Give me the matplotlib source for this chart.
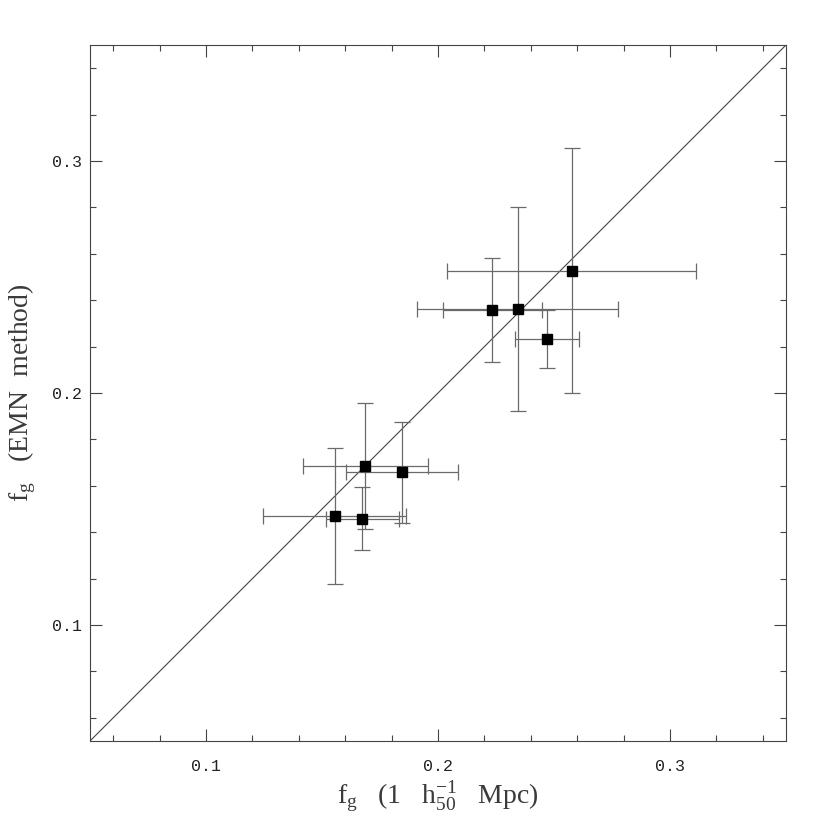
import matplotlib
matplotlib.use("Agg")
import matplotlib.pyplot as plt
from matplotlib.ticker import MultipleLocator, FormatStrFormatter

# Data
fg_1mpc = [0.1686, 0.1845, 0.1555, 0.1674, 0.2576, 0.2234, 0.2343, 0.2469]
fg_emn = [0.1687, 0.1658, 0.1470, 0.1459, 0.2528, 0.2356, 0.2362, 0.2234]
err_1mpc = [0.0270, 0.0243, 0.0309, 0.0158, 0.0536, 0.0213, 0.0435, 0.0137]
err_emn = [0.0272, 0.0219, 0.0295, 0.0137, 0.0527, 0.0224, 0.0438, 0.0125]
axis_range = [0.05, 0.35]

plt.rcParams['mathtext.fontset'] = 'custom'
plt.rcParams['mathtext.rm'] = 'Liberation Serif'
plt.rcParams['mathtext.it'] = 'Liberation Serif'

fig = plt.figure(figsize=(8.3, 8.3), dpi=100)
ax = fig.add_axes([90/830, 89/830, 696/830, 696/830])

axc = '#444444'
ax.plot(axis_range, axis_range, color=axc, lw=0.8, zorder=1)
ax.errorbar(fg_1mpc, fg_emn, xerr=err_1mpc, yerr=err_emn, fmt='none',
            ecolor='#6a6a6a', elinewidth=0.9, capsize=6, capthick=0.9, zorder=2)
ax.plot(fg_1mpc, fg_emn, 's', color='black', markersize=7, zorder=3)

ax.set_xlim(axis_range)
ax.set_ylim(axis_range)
for a in (ax.xaxis, ax.yaxis):
    a.set_major_locator(MultipleLocator(0.1))
    a.set_minor_locator(MultipleLocator(0.02))
    a.set_major_formatter(FormatStrFormatter('%.1f'))

ax.tick_params(which='both', direction='in', top=True, right=True,
               color=axc, width=0.8)
ax.tick_params(which='major', length=8.6)
ax.tick_params(which='minor', length=4.3)
ax.tick_params(axis='x', pad=13)
ax.tick_params(axis='y', pad=6)
for lab in ax.get_xticklabels() + ax.get_yticklabels():
    lab.set_family('Liberation Mono')
    lab.set_fontsize(12)
    lab.set_color('#222222')
for s in ax.spines.values():
    s.set_color(axc)
    s.set_linewidth(0.8)

ax.set_xlabel(r'f$_{\rm g}$   (1   h$_{50}^{-1}$   Mpc)', family='Liberation Serif',
              fontsize=20, color='#3a3a3a', labelpad=4)
ax.set_ylabel(r'f$_{\rm g}$   (EMN  method)', family='Liberation Serif',
              fontsize=20, color='#3a3a3a', labelpad=10)

fig.savefig('out.png', dpi=100)
